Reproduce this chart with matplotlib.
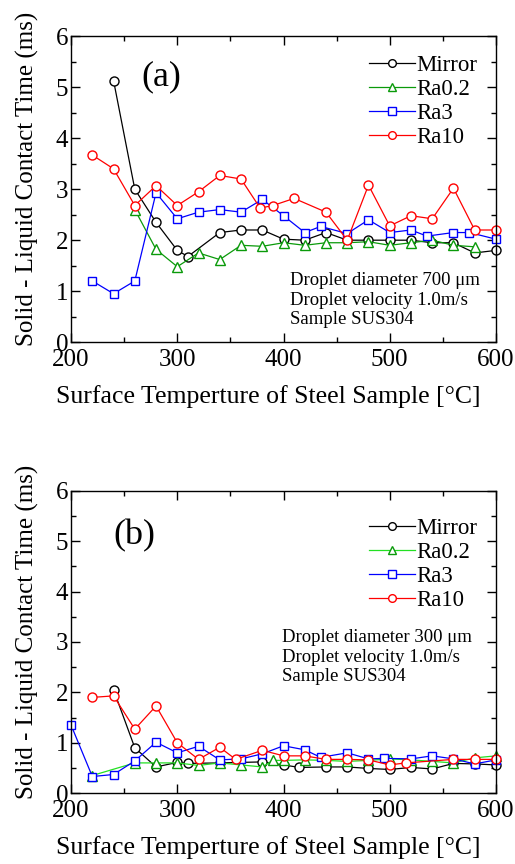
import matplotlib
matplotlib.use("Agg")
import matplotlib.pyplot as plt
from matplotlib.ticker import MultipleLocator

plt.rcParams['font.family'] = ['Liberation Serif', 'DejaVu Serif']

# ---------------- data: panel (a) ----------------
mirror_a_x = [240, 260, 280, 300, 310, 340, 360, 380, 400, 420, 440, 460, 480, 500, 520, 540, 560, 580, 600]
mirror_a_y = [5.13, 3.0, 2.35, 1.8, 1.68, 2.15, 2.2, 2.2, 2.02, 2.0, 2.15, 2.0, 2.0, 2.0, 2.0, 1.95, 1.95, 1.75, 1.8]
ra02_a_x = [260, 280, 300, 320, 340, 360, 380, 400, 420, 440, 460, 480, 500, 520, 540, 560, 580]
ra02_a_y = [2.6, 1.82, 1.48, 1.75, 1.62, 1.9, 1.88, 1.95, 1.9, 1.95, 1.95, 1.97, 1.9, 1.95, 2.0, 1.9, 1.87]
ra3_a_x = [220, 240, 260, 280, 300, 320, 340, 360, 380, 400, 420, 435, 460, 480, 500, 520, 535, 560, 575, 600]
ra3_a_y = [1.2, 0.95, 1.2, 2.93, 2.42, 2.55, 2.6, 2.55, 2.8, 2.48, 2.15, 2.27, 2.13, 2.4, 2.15, 2.2, 2.08, 2.15, 2.15, 2.02]
ra10_a_x = [220, 240, 260, 280, 300, 320, 340, 360, 378, 390, 410, 440, 460, 480, 500, 520, 540, 560, 580, 600]
ra10_a_y = [3.67, 3.4, 2.68, 3.07, 2.68, 2.95, 3.27, 3.2, 2.63, 2.68, 2.82, 2.55, 2.0, 3.08, 2.28, 2.48, 2.42, 3.02, 2.2, 2.2]

# ---------------- data: panel (b) ----------------
mirror_b_x = [240, 260, 280, 300, 310, 340, 380, 400, 415, 440, 460, 480, 500, 520, 540, 560, 580, 600]
mirror_b_y = [2.05, 0.9, 0.52, 0.61, 0.59, 0.6, 0.62, 0.56, 0.51, 0.52, 0.52, 0.49, 0.47, 0.51, 0.48, 0.59, 0.58, 0.56]
ra02_b_x = [220, 260, 280, 300, 320, 340, 360, 380, 390, 400, 420, 440, 460, 480, 500, 520, 540, 560, 580, 600]
ra02_b_y = [0.35, 0.6, 0.6, 0.6, 0.55, 0.6, 0.56, 0.52, 0.65, 0.65, 0.66, 0.65, 0.63, 0.65, 0.68, 0.66, 0.63, 0.6, 0.7, 0.74]
ra3_b_x = [200, 220, 240, 260, 280, 300, 320, 340, 360, 380, 400, 420, 435, 460, 480, 495, 520, 540, 560, 580, 600]
ra3_b_y = [1.35, 0.33, 0.37, 0.64, 1.01, 0.8, 0.93, 0.66, 0.68, 0.78, 0.94, 0.86, 0.71, 0.8, 0.68, 0.69, 0.68, 0.74, 0.68, 0.58, 0.66]
ra10_b_x = [220, 240, 260, 280, 300, 320, 340, 355, 380, 400, 420, 440, 460, 480, 500, 515, 560, 580, 600]
ra10_b_y = [1.9, 1.93, 1.27, 1.73, 1.0, 0.67, 0.91, 0.67, 0.85, 0.74, 0.74, 0.67, 0.67, 0.66, 0.56, 0.6, 0.67, 0.67, 0.67]

labels = ["Mirror", "Ra0.2", "Ra3", "Ra10"]
x_ticks = [200, 300, 400, 500, 600]
y_ticks = [0, 1, 2, 3, 4, 5, 6]
xlabel = "Surface Temperture of Steel Sample [°C]"
ylabel = "Solid - Liquid Contact Time (ms)"

fig = plt.figure(figsize=(5.15, 8.64), dpi=100)
ax_a = fig.add_axes([0.138, 0.604, 0.825, 0.354])
ax_b = fig.add_axes([0.138, 0.082, 0.825, 0.350])

green_a = '#0a9a0a'
green_b_line = '#22e022'
green_b_edge = '#0a9a0a'


def style(ax):
    ax.set_xlim(200, 600)
    ax.set_ylim(0, 6)
    ax.set_xticks(x_ticks)
    ax.set_yticks(y_ticks)
    ax.xaxis.set_minor_locator(MultipleLocator(50))
    ax.yaxis.set_minor_locator(MultipleLocator(0.5))
    ax.tick_params(which='both', direction='in', top=True, right=True, width=1.0)
    ax.tick_params(which='major', length=6.5)
    ax.tick_params(which='minor', length=3.8)
    ax.tick_params(axis='x', labelsize=18, pad=5)
    ax.tick_params(axis='y', labelsize=18, pad=2)
    for s in ax.spines.values():
        s.set_linewidth(1.0)
    ax.set_xlabel(xlabel, fontsize=18.5, labelpad=10)
    ax.set_ylabel(ylabel, fontsize=18, labelpad=12)
    ax.xaxis.label.set_x(0.464)
    ax.yaxis.label.set_y(0.533)


def plot_series(ax, data, green_line, green_edge):
    (mx, my), (gx, gy), (bx, by), (rx, ry) = data
    kw = dict(lw=0.9, mfc='white', mew=1.0, clip_on=False)
    ax.plot(mx, my, color='black', marker='o', ms=6.5, mec='black', label=labels[0], **kw)
    ax.plot(gx, gy, color=green_line, marker='^', ms=7, mec=green_edge, label=labels[1], **kw)
    ax.plot(bx, by, color='#0000ff', marker='s', ms=6, mec='#0000ff', label=labels[2], **kw)
    ax.plot(rx, ry, color='#ff0000', marker='o', ms=6.5, mec='#ff0000', label=labels[3], **kw)


plot_series(ax_a, [(mirror_a_x, mirror_a_y), (ra02_a_x, ra02_a_y), (ra3_a_x, ra3_a_y), (ra10_a_x, ra10_a_y)],
            green_a, green_a)
plot_series(ax_b, [(mirror_b_x, mirror_b_y), (ra02_b_x, ra02_b_y), (ra3_b_x, ra3_b_y), (ra10_b_x, ra10_b_y)],
            green_b_line, green_b_edge)

for ax in (ax_a, ax_b):
    style(ax)

leg_kw = dict(loc='upper left', frameon=False, fontsize=16.5, handlelength=2.0,
              handletextpad=0.05, labelspacing=0.13, borderpad=0, borderaxespad=0,
              markerscale=0.85)
ax_a.legend(bbox_to_anchor=(0.701, 0.94), **leg_kw)
ax_b.legend(bbox_to_anchor=(0.701, 0.91), **leg_kw)

ax_a.text(0.212, 0.866, "(a)", transform=ax_a.transAxes, fontsize=26, ha='center', va='center')
ax_b.text(0.15, 0.851, "(b)", transform=ax_b.transAxes, fontsize=26, ha='center', va='center')

notes_a = ["Droplet diameter 700 \u03bcm", "Droplet velocity 1.0m/s", "Sample SUS304"]
notes_b = ["Droplet diameter 300 \u03bcm", "Droplet velocity 1.0m/s", "Sample SUS304"]
for i, t in enumerate(notes_a):
    ax_a.text(0.515, 0.200 - i * 0.063, t, transform=ax_a.transAxes, fontsize=13.5,
              ha='left', va='center')
for i, t in enumerate(notes_b):
    ax_b.text(0.496, 0.514 - i * 0.064, t, transform=ax_b.transAxes, fontsize=13.5,
              ha='left', va='center')

fig.savefig("out.png", dpi=100)
